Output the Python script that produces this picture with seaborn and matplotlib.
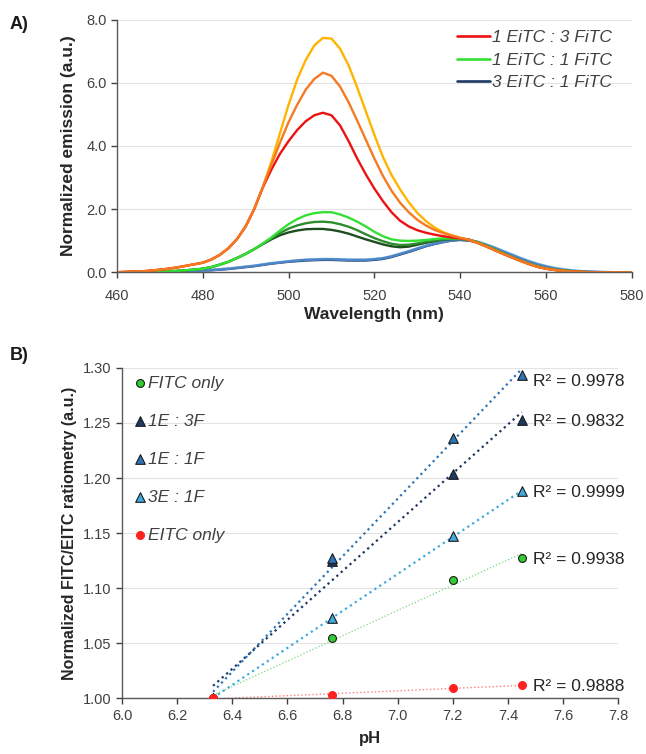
import numpy as np
import pandas as pd
import seaborn as sns
import matplotlib.pyplot as plt
from matplotlib.lines import Line2D

# ---- panel A: emission spectra (2 nm steps) ----
wavelength = list(range(460, 581, 2))

# 1 EiTC : 3 FiTC (three pH values)
em_13_yellow = [0.00, 0.01, 0.02, 0.03, 0.05, 0.08, 0.11, 0.15, 0.20, 0.25,
                0.30, 0.40, 0.55, 0.76, 1.05, 1.45, 2.00, 2.70, 3.50, 4.40,
                5.30, 6.10, 6.72, 7.18, 7.42, 7.40, 7.08, 6.55, 5.85, 5.10,
                4.35, 3.65, 3.08, 2.62, 2.22, 1.88, 1.62, 1.42, 1.27, 1.17,
                1.09, 1.03, 0.93, 0.82, 0.70, 0.58, 0.47, 0.36, 0.26, 0.17,
                0.11, 0.07, 0.04, 0.02, 0.01, 0.00, 0.00, 0.00, 0.00, 0.00, 0.00]
em_13_orange = [0.00, 0.01, 0.02, 0.03, 0.05, 0.08, 0.11, 0.15, 0.20, 0.25,
                0.30, 0.40, 0.55, 0.76, 1.05, 1.45, 2.00, 2.70, 3.40, 4.10,
                4.75, 5.30, 5.78, 6.12, 6.32, 6.22, 5.88, 5.38, 4.80, 4.20,
                3.60, 3.05, 2.58, 2.20, 1.90, 1.66, 1.48, 1.34, 1.24, 1.16,
                1.09, 1.03, 0.93, 0.82, 0.70, 0.58, 0.47, 0.36, 0.26, 0.17,
                0.11, 0.07, 0.04, 0.02, 0.01, 0.00, 0.00, 0.00, 0.00, 0.00, 0.00]
em_13_red = [0.00, 0.01, 0.02, 0.03, 0.05, 0.08, 0.11, 0.15, 0.20, 0.25,
             0.30, 0.40, 0.55, 0.76, 1.05, 1.45, 2.00, 2.68, 3.25, 3.75,
             4.15, 4.50, 4.78, 4.97, 5.05, 4.97, 4.65, 4.15, 3.60, 3.10,
             2.65, 2.25, 1.90, 1.63, 1.45, 1.33, 1.25, 1.19, 1.14, 1.10,
             1.07, 1.03, 0.93, 0.82, 0.70, 0.58, 0.47, 0.36, 0.26, 0.17,
             0.11, 0.07, 0.04, 0.02, 0.01, 0.00, 0.00, 0.00, 0.00, 0.00, 0.00]

# 1 EiTC : 1 FiTC
em_11_lime = [0.00, 0.00, 0.01, 0.01, 0.02, 0.02, 0.03, 0.04, 0.06, 0.08,
              0.11, 0.16, 0.24, 0.33, 0.45, 0.58, 0.73, 0.91, 1.10, 1.32,
              1.52, 1.68, 1.80, 1.87, 1.90, 1.90, 1.83, 1.73, 1.60, 1.45,
              1.28, 1.14, 1.04, 1.00, 0.99, 1.00, 1.02, 1.05, 1.07, 1.07,
              1.06, 1.03, 0.95, 0.84, 0.72, 0.60, 0.48, 0.37, 0.27, 0.19,
              0.12, 0.08, 0.05, 0.03, 0.01, 0.00, 0.00, 0.00, 0.00, 0.00, 0.00]
em_11_green = [0.00, 0.00, 0.01, 0.01, 0.02, 0.02, 0.03, 0.04, 0.06, 0.08,
               0.11, 0.16, 0.24, 0.33, 0.45, 0.58, 0.73, 0.90, 1.07, 1.24,
               1.38, 1.48, 1.55, 1.59, 1.60, 1.58, 1.52, 1.44, 1.33, 1.20,
               1.08, 0.98, 0.90, 0.86, 0.87, 0.91, 0.96, 1.00, 1.04, 1.06,
               1.06, 1.03, 0.95, 0.84, 0.72, 0.60, 0.48, 0.37, 0.27, 0.19,
               0.12, 0.08, 0.05, 0.03, 0.01, 0.00, 0.00, 0.00, 0.00, 0.00, 0.00]
em_11_dark = [0.00, 0.00, 0.01, 0.01, 0.02, 0.02, 0.03, 0.04, 0.06, 0.08,
              0.11, 0.16, 0.24, 0.33, 0.45, 0.58, 0.73, 0.89, 1.04, 1.17,
              1.26, 1.32, 1.36, 1.37, 1.37, 1.34, 1.29, 1.22, 1.13, 1.04,
              0.96, 0.88, 0.82, 0.79, 0.81, 0.87, 0.93, 0.98, 1.03, 1.05,
              1.05, 1.03, 0.95, 0.84, 0.72, 0.60, 0.48, 0.37, 0.27, 0.19,
              0.12, 0.08, 0.05, 0.03, 0.01, 0.00, 0.00, 0.00, 0.00, 0.00, 0.00]

# 3 EiTC : 1 FiTC
em_31_navy = [0.00, 0.00, 0.00, 0.00, 0.00, 0.00, 0.01, 0.01, 0.02, 0.03,
              0.04, 0.06, 0.08, 0.10, 0.13, 0.16, 0.19, 0.23, 0.27, 0.30,
              0.33, 0.35, 0.37, 0.38, 0.39, 0.39, 0.38, 0.37, 0.37, 0.37,
              0.39, 0.42, 0.48, 0.56, 0.64, 0.73, 0.82, 0.89, 0.95, 1.00,
              1.02, 1.00, 0.95, 0.86, 0.76, 0.65, 0.54, 0.43, 0.33, 0.24,
              0.17, 0.11, 0.07, 0.04, 0.02, 0.01, 0.00, 0.00, 0.00, 0.00, 0.00]
em_31_blue = [0.00, 0.00, 0.00, 0.00, 0.00, 0.00, 0.01, 0.01, 0.02, 0.03,
              0.05, 0.07, 0.09, 0.11, 0.14, 0.17, 0.20, 0.24, 0.28, 0.31,
              0.34, 0.37, 0.39, 0.40, 0.41, 0.41, 0.40, 0.39, 0.39, 0.39,
              0.41, 0.44, 0.50, 0.58, 0.66, 0.75, 0.83, 0.90, 0.96, 1.01,
              1.03, 1.01, 0.96, 0.87, 0.77, 0.66, 0.55, 0.44, 0.34, 0.25,
              0.18, 0.12, 0.08, 0.05, 0.03, 0.02, 0.01, 0.00, 0.00, 0.00, 0.00]
em_31_light = [0.00, 0.00, 0.00, 0.00, 0.00, 0.01, 0.01, 0.02, 0.03, 0.04,
               0.05, 0.07, 0.10, 0.12, 0.15, 0.18, 0.21, 0.25, 0.29, 0.32,
               0.35, 0.38, 0.40, 0.41, 0.42, 0.42, 0.41, 0.40, 0.40, 0.40,
               0.42, 0.45, 0.51, 0.59, 0.67, 0.76, 0.84, 0.91, 0.97, 1.02,
               1.04, 1.02, 0.97, 0.89, 0.79, 0.68, 0.57, 0.46, 0.36, 0.27,
               0.20, 0.14, 0.10, 0.06, 0.04, 0.02, 0.01, 0.01, 0.00, 0.00, 0.00]

# ---- panel B: ratiometry vs pH ----
ph = [6.33, 6.76, 7.20, 7.45]
fitc_only = [1.000, 1.055, 1.107, 1.127]
ratio_1e3f = [1.000, 1.125, 1.204, 1.253]
ratio_1e1f = [1.000, 1.127, 1.236, 1.294]
ratio_3e1f = [1.000, 1.073, 1.147, 1.188]
eitc_only = [1.000, 1.003, 1.009, 1.012]
r2_labels = ["R² = 0.9978", "R² = 0.9832", "R² = 0.9999", "R² = 0.9938", "R² = 0.9888"]

sns.set_theme(style="white")
plt.rcParams['font.family'] = ['Liberation Sans', 'DejaVu Sans']
txt = '#404040'

fig = plt.figure(figsize=(6.46, 7.54), dpi=100)
axA = fig.add_axes([0.181, 0.639, 0.797, 0.335])
axB = fig.add_axes([0.189, 0.074, 0.768, 0.438])

# panel A curves (back to front)
spectra = [
    (em_31_navy, '#1f3864'), (em_31_light, '#9dc3e6'), (em_31_blue, '#4a86c8'),
    (em_11_dark, '#1e4d1e'), (em_11_green, '#2e8b2e'), (em_11_lime, '#33e033'),
    (em_13_yellow, '#ffb400'), (em_13_red, '#ee1111'), (em_13_orange, '#f57a22'),
]
for vals, col in spectra:
    sns.lineplot(x=wavelength, y=vals, color=col, lw=1.7, ax=axA)

axA.set_xlim(460, 580)
axA.set_ylim(0, 8)
axA.set_xticks(range(460, 581, 20))
axA.set_yticks(np.arange(0, 8.1, 2))
axA.set_yticklabels([f"{v:.1f}" for v in np.arange(0, 8.1, 2)])
axA.set_xlabel("Wavelength (nm)", fontsize=12.5, fontweight='bold', color='#262626', labelpad=3)
axA.set_ylabel("Normalized emission (a.u.)", fontsize=12.5, fontweight='bold', color='#262626',
               labelpad=7)

handlesA = [Line2D([], [], color='#ee1111', lw=1.9),
            Line2D([], [], color='#33e033', lw=1.9),
            Line2D([], [], color='#1f3864', lw=1.9)]
axA.legend(handlesA, ["1 EiTC : 3 FiTC", "1 EiTC : 1 FiTC", "3 EiTC : 1 FiTC"],
           loc='upper right', bbox_to_anchor=(0.975, 0.985), borderaxespad=0, frameon=False,
           prop={'style': 'italic', 'size': 12.5}, labelspacing=0.4,
           handlelength=1.9, handletextpad=0.1, labelcolor=txt)

# panel B: trend lines then markers
series = [
    ("FITC only", fitc_only, 'o', '#33cc33', '#1a1a1a', '#7fd67f', 0.9, 32),
    ("1E : 3F", ratio_1e3f, '^', '#1f3864', '#1a1a1a', '#1f3864', 1.6, 48),
    ("1E : 1F", ratio_1e1f, '^', '#2e75b6', '#1a1a1a', '#2e75b6', 1.6, 48),
    ("3E : 1F", ratio_3e1f, '^', '#3fa9e0', '#1a1a1a', '#3fa9e0', 1.6, 48),
    ("EITC only", eitc_only, 'o', '#ff2020', '#ff2020', '#ff8080', 1.0, 32),
]
for name, vals, mk, fc, ec, lc, lw, sz in series:
    sns.regplot(x=ph, y=vals, scatter=False, ci=None, ax=axB,
                line_kws=dict(color=lc, ls=':', lw=lw))
for name, vals, mk, fc, ec, lc, lw, sz in series:
    sns.scatterplot(x=ph, y=vals, marker=mk, color=fc, edgecolor=ec, linewidth=0.8,
                    s=sz, ax=axB, label=name, zorder=5)

# R² labels next to the last points
r2_order = [ratio_1e1f, ratio_1e3f, ratio_3e1f, fitc_only, eitc_only]
r2_dy = [-5, -1, -1, -1, -1]
for lab, vals, dy in zip(r2_labels, r2_order, r2_dy):
    axB.annotate(lab, (ph[-1], vals[-1]), xytext=(8, dy), textcoords='offset points',
                 va='center', ha='left', fontsize=12.5, color='#262626')

axB.set_xlim(6.0, 7.8)
axB.set_ylim(1.0, 1.30)
axB.set_xticks(np.arange(6.0, 7.81, 0.2))
axB.set_xticklabels([f"{v:.1f}" for v in np.arange(6.0, 7.81, 0.2)])
axB.set_yticks(np.arange(1.0, 1.301, 0.05))
axB.set_yticklabels([f"{v:.2f}" for v in np.arange(1.0, 1.301, 0.05)])
axB.set_xlabel("pH", fontsize=12, fontweight='bold', color='#262626', labelpad=6)
axB.set_ylabel("Normalized FITC/EITC ratiometry (a.u.)", fontsize=11.5, fontweight='bold',
               color='#262626', labelpad=4)
axB.legend(loc='upper left', bbox_to_anchor=(0.012, 0.998), borderaxespad=0, frameon=False,
           prop={'style': 'italic', 'size': 12.5}, labelspacing=1.32, handlelength=0.6,
           handletextpad=0.15, labelcolor=txt)

for ax in (axA, axB):
    ax.grid(axis='y', color='#e3e3e3', lw=0.8)
    ax.set_axisbelow(True)
    for side in ('top', 'right'):
        ax.spines[side].set_visible(False)
    for side in ('left', 'bottom'):
        ax.spines[side].set_color('#595959')
        ax.spines[side].set_linewidth(1.0)
    ax.tick_params(axis='both', labelsize=10.5, colors=txt, length=4, width=1,
                   direction='out', bottom=True, left=True)
axA.tick_params(axis='x', pad=8)

fig.text(0.015, 0.962, "A)", fontsize=13, fontweight='bold', color='#1a1a1a')
fig.text(0.015, 0.522, "B)", fontsize=13, fontweight='bold', color='#1a1a1a')

fig.savefig("out.png", dpi=100)
